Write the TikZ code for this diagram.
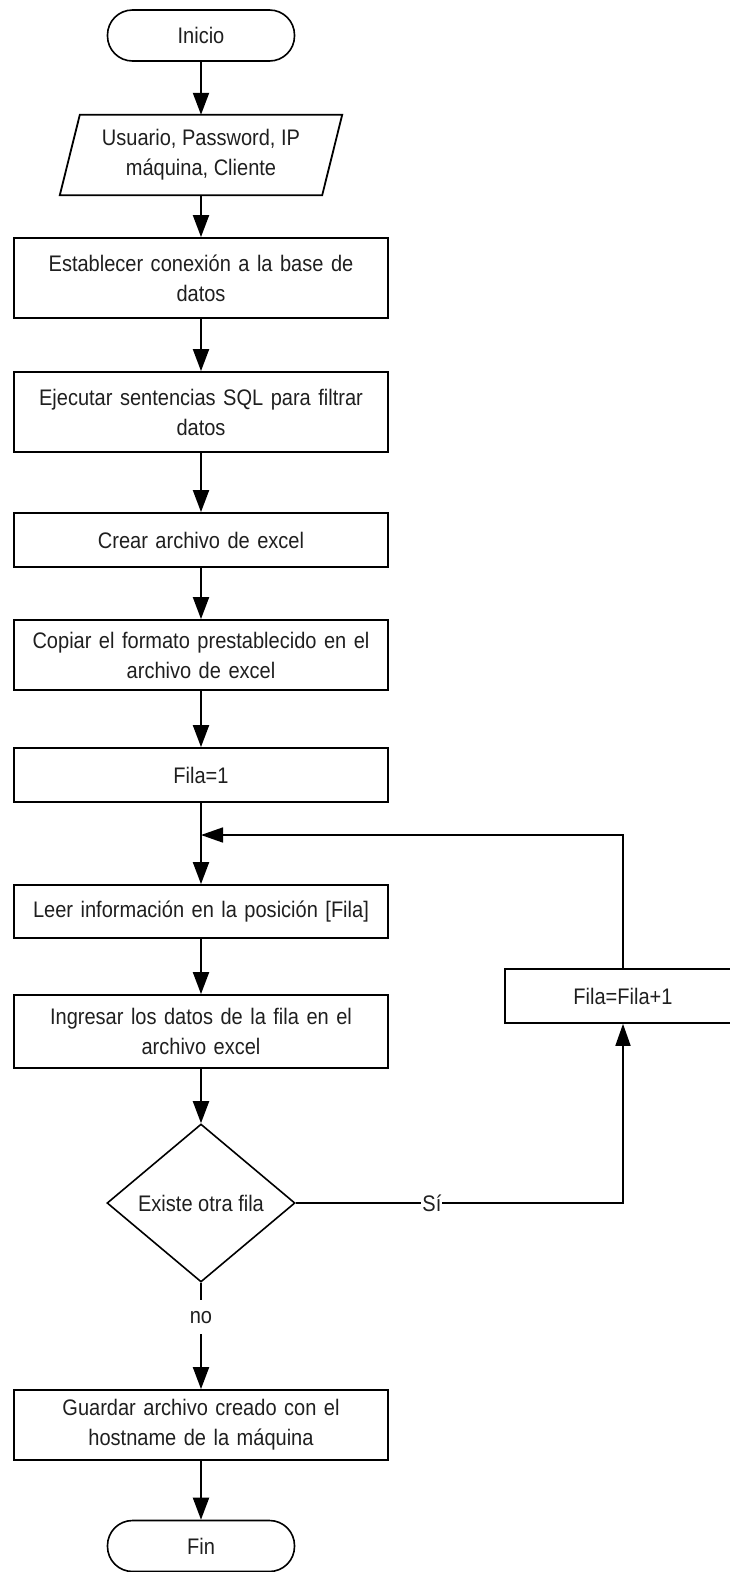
\documentclass[tikz,border=0pt]{standalone}
\usepackage{fontspec}
\setmainfont{Liberation Sans}[FakeStretch=0.89]
\usetikzlibrary{arrows.meta,shapes.geometric}
\begin{document}
\begin{tikzpicture}[x=1pt,y=-1pt,
  every node/.style={text=black!88, font=\fontsize{22.5}{30}\selectfont},
  proc/.style={draw, line width=1.8pt, minimum width=374pt, text width=364pt,
               align=center, inner sep=0pt},
  term/.style={draw, line width=1.6pt, rounded corners=25pt,
               minimum width=187pt, minimum height=51pt, inner sep=0pt},
  flow/.style={line width=2pt, -{Triangle[length=22pt,width=16pt]}},
  loopline/.style={line width=1.6pt, -{Triangle[length=22pt,width=15pt]}},
  tag/.style={fill=white, inner sep=0pt}
]
\clip (0,0) rectangle (730,1572);
\useasboundingbox (0,0) rectangle (730,1572);

% start / end
\node[term] (inicio) at (201,35.5) {Inicio};
\node[term] (fin) at (201,1546) {Fin};

% input data (parallelogram drawn around an invisible box)
\node[minimum width=262pt, minimum height=80pt, align=center, inner sep=0pt]
  (datos) at (201,155) {Usuario, Password, IP\\máquina, Cliente};
\draw[line width=1.8pt]
  ([xshift=10pt]datos.north west) -- ([xshift=10pt]datos.north east)
  -- ([xshift=-10pt]datos.south east) -- ([xshift=-10pt]datos.south west) -- cycle;

% process steps
\node[proc, minimum height=80pt] (conex) at (201,278)
  {Establecer conexión a la base de\\datos};
\node[proc, minimum height=80pt] (sql) at (201,412)
  {Ejecutar sentencias SQL para filtrar\\datos};
\node[proc, minimum height=54pt] (crear) at (201,540)
  {Crear archivo de excel};
\node[proc, minimum height=70pt] (copiar) at (201,655)
  {Copiar el formato prestablecido en el\\archivo de excel};
\node[proc, minimum height=54pt] (fila) at (201,775) {Fila=1};
\node[proc, minimum height=53pt] (leer) at (201,911.5)
  {Leer información en la posición [Fila]};
\node[proc, minimum height=73pt] (ingresar) at (201,1031.5)
  {Ingresar los datos de la fila en el\\archivo excel};
\node[diamond, draw, line width=1.6pt, minimum width=188pt, minimum height=158pt,
      inner sep=0pt] (existe) at (201,1203) {Existe otra fila};
\node[proc, minimum height=70pt] (guardar) at (201,1425)
  {Guardar archivo creado con el\\hostname de la máquina};
\node[draw, line width=1.6pt, minimum width=236pt, minimum height=54pt,
      inner sep=0pt] (incr) at (623,996) {Fila=Fila+1};

\coordinate (union) at (201,835);

% main flow
\draw[flow] (inicio) -- (datos);
\draw[flow] (datos) -- (conex);
\draw[flow] (conex) -- (sql);
\draw[flow] (sql) -- (crear);
\draw[flow] (crear) -- (copiar);
\draw[flow] (copiar) -- (fila);
\draw[flow] (fila) -- (leer);
\draw[flow] (leer) -- (ingresar);
\draw[flow] (ingresar) -- (existe);
\draw[flow] (existe) -- node[tag, pos=0.324, inner ysep=11pt, inner xsep=2pt] {no} (guardar);
\draw[flow] (guardar) -- (fin);

% loop back
\draw[loopline] (existe.east) -| node[tag, pos=0.208, inner xsep=1pt] {Sí} (incr.south);
\draw[loopline] (incr.north) |- (union);
\end{tikzpicture}
\end{document}
